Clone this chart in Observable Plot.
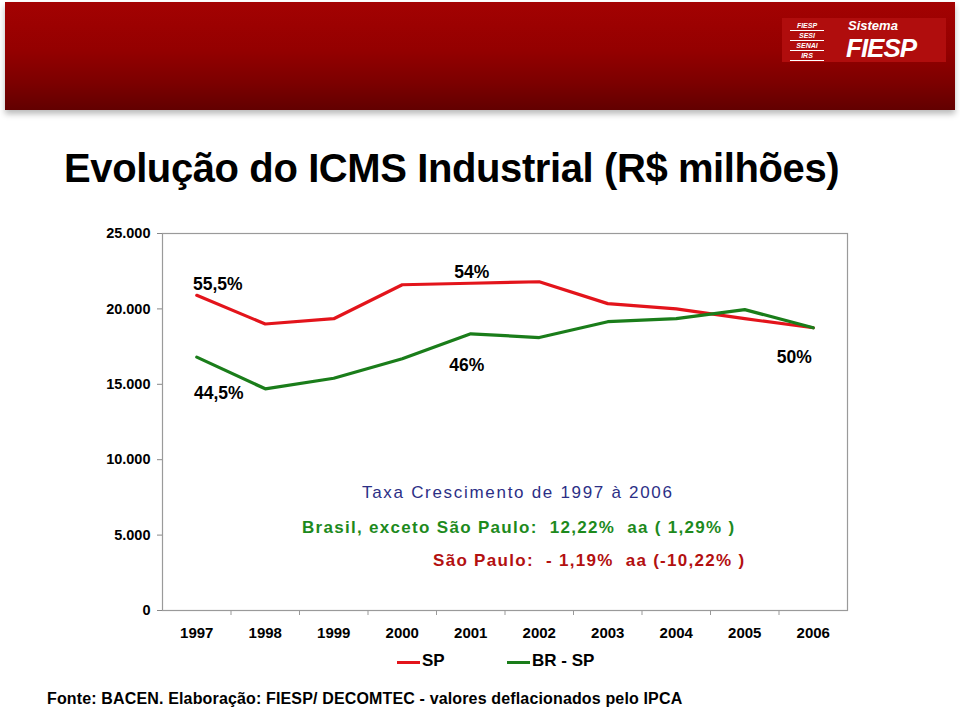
<!DOCTYPE html>
<html><head><meta charset="utf-8">
<script src="https://cdn.jsdelivr.net/npm/d3@7"></script>
<script src="https://cdn.jsdelivr.net/npm/@observablehq/plot@0.6"></script>
<style>
body{margin:0;background:#fff;font-family:"Liberation Sans",Arial,sans-serif;}
#page{position:relative;width:960px;height:711px;overflow:hidden;background:#fff;}
#banner{position:absolute;left:5px;top:2px;width:950px;height:108px;
 background:linear-gradient(to bottom,#a30202 0%,#940000 45%,#7c0000 75%,#620000 100%);box-shadow:0 4px 6px #bbb;}
#logo{position:absolute;left:782px;top:18px;width:164px;height:44px;background:#b00d0d;color:#fff;font-style:italic;font-weight:bold;}
#logo .small{position:absolute;left:8px;width:34px;font-size:7px;text-align:center;line-height:9px;border-bottom:1px solid #fff;}
#logo .sis{position:absolute;left:66px;top:1px;font-size:13px;line-height:13px;}
#logo .fiesp{position:absolute;left:64px;top:19px;font-size:26px;line-height:22px;letter-spacing:-1px;}
.abs{position:absolute;white-space:pre;}
#title{left:64px;top:146px;font-size:40px;font-weight:bold;letter-spacing:-0.4px;color:#000;}
.box{font-size:17px;font-weight:bold;letter-spacing:1.3px;}
#t1{left:362px;top:483px;color:#2c2f86;font-weight:normal;letter-spacing:1.7px;}
#t2{left:302px;top:518px;color:#1d8a1d;}
#t3{left:433px;top:551px;color:#b31010;}
.leg{top:651px;font-size:17px;font-weight:bold;color:#000;}
.sw{position:absolute;top:661px;width:23px;height:3px;}
#foot{left:47px;top:690px;font-size:16px;font-weight:bold;color:#000;letter-spacing:0.15px;}
#chart{position:absolute;left:0;top:220px;}
</style></head>
<body><div id="page">
<div id="banner"></div>
<div id="logo">
 <div class="small" style="top:3px">FIESP</div>
 <div class="small" style="top:13px">SESI</div>
 <div class="small" style="top:23px">SENAI</div>
 <div class="small" style="top:33px">IRS</div>
 <div class="sis">Sistema</div>
 <div class="fiesp">FIESP</div>
</div>
<div class="abs" id="title">Evolução do ICMS Industrial (R$ milhões)</div>
<div id="chart"></div>
<div class="abs box" id="t1">Taxa Crescimento de 1997 à 2006</div>
<div class="abs box" id="t2">Brasil, exceto São Paulo:  12,22%  aa ( 1,29% )</div>
<div class="abs box" id="t3">São Paulo:  - 1,19%  aa (-10,22% )</div>
<div class="sw" style="left:397px;background:#e3141b"></div>
<div class="abs leg" style="left:422px">SP</div>
<div class="sw" style="left:507px;background:#1a7d1a"></div>
<div class="abs leg" style="left:532px">BR - SP</div>
<div class="abs" id="foot">Fonte: BACEN. Elaboração: FIESP/ DECOMTEC - valores deflacionados pelo IPCA</div>
</div>
<script>
const years = [1997, 1998, 1999, 2000, 2001, 2002, 2003, 2004, 2005, 2006];
const sp    = [20900, 19000, 19350, 21600, 21700, 21800, 20350, 20000, 19350, 18750];
const brsp  = [16800, 14700, 15400, 16700, 18350, 18100, 19150, 19350, 19950, 18750];
const yTicks = [0, 5000, 10000, 15000, 20000, 25000];
const series = ["SP", "BR - SP"];
const colors = ["#e3141b", "#1a7d1a"];
const labelText = ["55,5%", "54%", "44,5%", "46%", "50%"];

const data = years.flatMap((yr, i) => [
  {year: yr, value: sp[i], serie: series[0]},
  {year: yr, value: brsp[i], serie: series[1]}
]);
const bounds = years.slice(0, -1).map(y => y + 0.5);
const fmt = d => d3.format(",")(d).replace(/,/g, ".");

const lbl = (yr, arr, text, dx, dy) => Plot.text([{year: yr, value: arr[years.indexOf(yr)]}], {
  x: "year", y: "value", text: () => text, dx, dy, fontSize: 17.5, fontWeight: "bold", fill: "#000"
});

const chart = Plot.plot({
  width: 960, height: 430,
  marginLeft: 162, marginRight: 113, marginTop: 13, marginBottom: 40,
  style: {fontFamily: "'Liberation Sans', Arial, sans-serif", fontSize: "14px", fontWeight: "bold", color: "#000", background: "transparent"},
  x: {domain: [years[0] - 0.5, years[years.length - 1] + 0.5], label: null},
  y: {domain: [yTicks[0], yTicks[yTicks.length - 1]], label: null},
  color: {domain: series, range: colors},
  marks: [
    Plot.frame({stroke: "#9a9a9a", strokeWidth: 1.2}),
    Plot.axisY({ticks: yTicks, tickFormat: fmt, tickSize: 5, tickPadding: 7, stroke: "#888", fill: "#000", fontSize: 14.5, fontWeight: "bold", label: null}),
    Plot.axisX({ticks: years, tickFormat: d => String(d), tickSize: 0, tickPadding: 17, fill: "#000", fontSize: 15, fontWeight: "bold", label: null}),
    Plot.axisX({ticks: bounds, tickFormat: () => "", tickSize: 5, stroke: "#999", label: null}),
    Plot.line(data, {x: "year", y: "value", z: "serie", stroke: "serie", strokeWidth: 3.2}),
    lbl(1997, sp, labelText[0], 21, -11),
    lbl(2001, sp, labelText[1], 1, -11),
    lbl(1997, brsp, labelText[2], 22, 36),
    lbl(2001, brsp, labelText[3], -4, 32),
    lbl(2006, brsp, labelText[4], -19, 30)
  ]
});
document.getElementById("chart").appendChild(chart);
</script>
</body></html>
